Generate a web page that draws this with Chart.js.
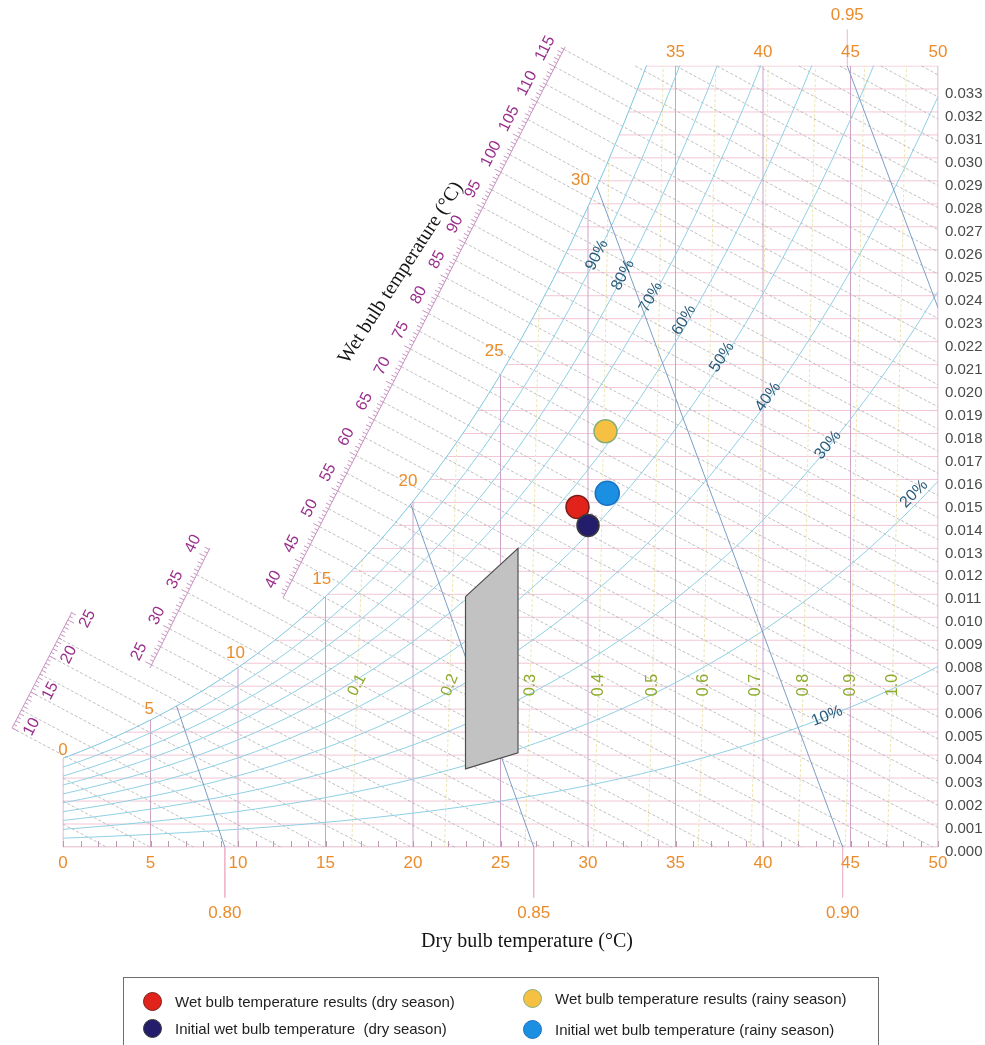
<!DOCTYPE html>
<html lang="en">
<head>
<meta charset="utf-8">
<title>Psychrometric chart – wet bulb temperature results</title>
<script src="https://cdn.jsdelivr.net/npm/chart.js@4.4.1/dist/chart.umd.min.js"></script>
<style>
  html, body { margin: 0; padding: 0; background: #ffffff; }
  #frame { position: relative; width: 985px; height: 1045px; overflow: hidden; background: #ffffff; }
  #psy { position: absolute; left: 0; top: 0; display: block; }
  #legend { position: absolute; left: 123px; top: 977px; width: 756px; height: 100px; border: 1px solid #6e6e6e;
            box-sizing: border-box; font-family: "Liberation Sans", Arial, sans-serif; font-size: 15px; color: #1e1e1e; }
  .entry { position: absolute; display: flex; align-items: center; white-space: pre; height: 22px; }
  .dot { width: 19px; height: 19px; border-radius: 50%; box-sizing: border-box; margin-right: 13px; flex: none; }
</style>
</head>
<body>
<div id="frame">
  <canvas id="psy" width="985" height="1045"></canvas>
  <div id="legend"></div>
</div>
<script>
// ---------------- values ----------------
const DRY_BULB_GRID = [0, 5, 10, 15, 20, 25, 30, 35, 40, 45, 50];
const DRY_BULB_TOP_LABELS = [35, 40, 45, 50];
const SAT_LABELS = [0, 5, 10, 15, 20, 25, 30];
const HUMIDITY_LABELS = [0.000, 0.001, 0.002, 0.003, 0.004, 0.005, 0.006, 0.007, 0.008, 0.009,
  0.010, 0.011, 0.012, 0.013, 0.014, 0.015, 0.016, 0.017, 0.018, 0.019,
  0.020, 0.021, 0.022, 0.023, 0.024, 0.025, 0.026, 0.027, 0.028, 0.029,
  0.030, 0.031, 0.032, 0.033];
const HUMIDITY_TOP = 0.034;

// saturation vapour pressure of water (kPa) against dry bulb temperature (°C)
const SAT_TEMP = [0, 1, 2, 3, 4, 5, 6, 7, 8, 9, 10, 11, 12, 13, 14, 15, 16, 17, 18, 19, 20,
  21, 22, 23, 24, 25, 26, 27, 28, 29, 30, 31, 32, 33, 34, 35, 36, 37, 38, 39, 40,
  41, 42, 43, 44, 45, 46, 47, 48, 49, 50];
const SAT_PRESSURE = [0.6112, 0.6571, 0.7060, 0.7581, 0.8135, 0.8725, 0.9353, 1.0020, 1.0729, 1.1481, 1.2280,
  1.3127, 1.4026, 1.4978, 1.5987, 1.7055, 1.8184, 1.9380, 2.0643, 2.1978, 2.3388,
  2.4877, 2.6448, 2.8104, 2.9851, 3.1692, 3.3631, 3.5673, 3.7822, 4.0083, 4.2460,
  4.4959, 4.7585, 5.0343, 5.3239, 5.6278, 5.9466, 6.2810, 6.6315, 6.9987, 7.3835,
  7.7863, 8.2080, 8.6492, 9.1107, 9.5932, 10.098, 10.625, 11.176, 11.751, 12.351];

const RH_LEVELS = [10, 20, 30, 40, 50, 60, 70, 80, 90];
// enthalpy guide lines, kJ/kg dry air
const ENTHALPY_LINES = [2.5, 5, 7.5, 10, 12.5, 15, 17.5, 20, 22.5, 25, 27.5, 30, 32.5, 35, 37.5, 40, 42.5, 45,
  47.5, 50, 52.5, 55, 57.5, 60, 62.5, 65, 67.5, 70, 72.5, 75, 77.5, 80, 82.5, 85, 87.5, 90, 92.5, 95,
  97.5, 100, 102.5, 105, 107.5, 110, 112.5, 115, 117.5, 120, 122.5, 125, 127.5, 130, 132.5, 135, 137.5];
const ENTHALPY_LABELS_A = [10, 15, 20, 25];
const ENTHALPY_LABELS_B = [25, 30, 35, 40];
const ENTHALPY_LABELS_C = [40, 45, 50, 55, 60, 65, 70, 75, 80, 85, 90, 95, 100, 105, 110, 115];
const VOLUME_LEVELS = [0.80, 0.85, 0.90, 0.95];
const VOLUME_LABELS = ['0.80', '0.85', '0.90', '0.95'];

const EVAP_LABELS = ['0.1', '0.2', '0.3', '0.4', '0.5', '0.6', '0.7', '0.8', '0.9', '1.0'];
const EVAP_T_LOW  = [16.5, 21.8, 26.4, 30.3, 33.4, 36.3, 39.3, 42.0, 44.7, 47.1];
const EVAP_T_MID  = [16.8, 22.1, 26.7, 30.6, 33.7, 36.6, 39.6, 42.3, 45.0, 47.4];
const EVAP_T_HIGH = [17.1, 22.5, 27.2, 31.2, 34.3, 37.3, 40.3, 43.0, 45.8, 48.2];
const EVAP_W_MID = 0.00705;

// measured states: dry bulb (°C), humidity ratio (kg/kg)
const WB_RESULT_DRY = [29.4, 0.0148];
const WB_INITIAL_DRY = [30.0, 0.0140];
const WB_RESULT_RAINY = [31.0, 0.0181];
const WB_INITIAL_RAINY = [31.1, 0.0154];

// comfort zone outline
const COMFORT_T = [23.0, 26.0, 26.0, 23.0];
const COMFORT_W = [0.0109, 0.0130, 0.0041, 0.0034];

// ---------------- psychrometric relations ----------------
const P_BARO = 99.0;    // kPa, pressure of the humidity curves
const P_STD = 101.325;  // kPa, pressure of the specific volume lines

const wFromVapour = e => 0.622 * e / (P_BARO - e);
const WS = SAT_PRESSURE.map(wFromVapour);

function lerp(xs, ys, x) {
  if (x <= xs[0]) return ys[0];
  for (let i = 1; i < xs.length; i++) {
    if (x <= xs[i]) {
      const f = (x - xs[i - 1]) / (xs[i] - xs[i - 1]);
      return ys[i - 1] + f * (ys[i] - ys[i - 1]);
    }
  }
  return ys[ys.length - 1];
}
const wsAt = t => lerp(SAT_TEMP, WS, t);
const tsAt = w => lerp(WS, SAT_TEMP, w);
const enthalpy = (t, w) => 1.006 * t + w * (2501 + 1.86 * t);
const wOnEnthalpy = (h, t) => (h - 1.006 * t) / (2501 + 1.86 * t);

// enthalpy scale segments, end points as (dry bulb, humidity ratio)
const ENTH_SCALE_A = [[-2.91, 0.00518], [0.51, 0.01023]];
const ENTH_SCALE_B = [[4.97, 0.00779], [8.40, 0.01302]];
const ENTH_SCALE_C = [[12.57, 0.01084], [28.69, 0.03483]];

function onScale(seg, h) {
  const [a, b] = seg;
  const at = s => [a[0] + (b[0] - a[0]) * s, a[1] + (b[1] - a[1]) * s];
  let lo = -0.5, hi = 1.5;
  for (let k = 0; k < 60; k++) {
    const m = (lo + hi) / 2, p = at(m);
    if (enthalpy(p[0], p[1]) < h) lo = m; else hi = m;
  }
  const s = (lo + hi) / 2, p = at(s);
  return { t: p[0], w: p[1], s };
}

// one enthalpy line: from its scale (or the chart edge) down to the dry bulb axis or the right edge
function enthalpyLine(h) {
  let start;
  if (h < 10) start = [0, h / 2501];
  else {
    const seg = h < 25 ? ENTH_SCALE_A : h < 40 ? ENTH_SCALE_B : ENTH_SCALE_C;
    const p = onScale(seg, h);
    start = p.s <= 1 ? [p.t, p.w]
      : [(h - 2501 * HUMIDITY_TOP) / (1.006 + 1.86 * HUMIDITY_TOP), HUMIDITY_TOP];
  }
  const tEnd = h / 1.006;
  const end = tEnd <= 50 ? [tEnd, 0] : [50, wOnEnthalpy(h, 50)];
  const pts = [start];
  for (let k = 1; k < 4; k++) {
    const t = start[0] + (end[0] - start[0]) * k / 4;
    pts.push([t, wOnEnthalpy(h, t)]);
  }
  pts.push(end);
  return pts;
}

const tOnVolume = (v, w) => v * P_STD / (0.287042 * (1 + 1.6078 * w)) - 273.15;
function volumeLine(v) {
  let wLo = 0;
  if (tOnVolume(v, 0) > 50) wLo = (v * P_STD / (0.287042 * 323.15) - 1) / 1.6078;
  let wHi = HUMIDITY_TOP;
  const f = w => wsAt(tOnVolume(v, w)) - w;
  if (f(wHi) < 0) {
    let lo = wLo, hi = wHi;
    for (let k = 0; k < 60; k++) { const m = (lo + hi) / 2; if (f(m) > 0) lo = m; else hi = m; }
    wHi = (lo + hi) / 2;
  }
  return [[tOnVolume(v, wLo), wLo], [tOnVolume(v, wHi), wHi]];
}

// ---------------- datasets ----------------
const datasets = [];
const GAP = { x: null, y: null };
function addLines(segments, style) {
  const data = [];
  segments.forEach((seg, i) => {
    if (i) data.push(GAP);
    seg.forEach(p => data.push({ x: p[0], y: p[1] }));
  });
  datasets.push(Object.assign({
    data, showLine: true, spanGaps: false, pointRadius: 0, pointHoverRadius: 0, pointHitRadius: 0,
    fill: false, tension: 0, borderWidth: 1
  }, style));
}

// humidity ratio grid, from the saturation curve to the right edge
const humidityGrid = HUMIDITY_LABELS.slice(1).concat([HUMIDITY_TOP]);
addLines(humidityGrid.map(w => [[Math.max(0, tsAt(w)), w], [50, w]]), { borderColor: '#f3c6d6', order: 95 });
addLines([[[0, 0], [50, 0]]], { borderColor: '#dea2bb', order: 94 });

// dry bulb grid, from the axis up to the saturation curve
addLines(DRY_BULB_GRID.map(t => [[t, 0], [t, Math.min(HUMIDITY_TOP, WS[t])]]), { borderColor: '#cfa2c8', order: 90 });

// enthalpy deviation curves
addLines(EVAP_T_LOW.map((t0, i) => {
  const t1 = EVAP_T_HIGH[i];
  return [[t0, 0], [EVAP_T_MID[i], EVAP_W_MID], [t1, Math.min(HUMIDITY_TOP, wsAt(t1))]];
}), { borderColor: '#ede5b4', borderDash: [3, 2], order: 85 });

// enthalpy lines
addLines(ENTHALPY_LINES.map(enthalpyLine), { borderColor: '#b0b0b0', borderDash: [3, 2], borderWidth: 0.8, order: 79, clip: false });

// relative humidity curves and saturation curve
addLines(RH_LEVELS.map(r => SAT_TEMP.map((t, i) => [t, wFromVapour(r / 100 * SAT_PRESSURE[i])])),
  { borderColor: '#8fd0e4', order: 70 });
addLines([SAT_TEMP.map((t, i) => [t, WS[i]])], { borderColor: '#7cc6df', order: 69 });

// specific volume lines and their label leaders
const volumeSegs = VOLUME_LEVELS.map(volumeLine);
addLines(volumeSegs, { borderColor: '#7b9ec4', order: 60 });
addLines(volumeSegs.map((seg, i) => i < 3
  ? [[seg[0][0], 0], [seg[0][0], -0.0022]]
  : [[seg[1][0], HUMIDITY_TOP], [seg[1][0], HUMIDITY_TOP + 0.0016]]),
  { borderColor: '#efb6c9', order: 59, clip: false });

// comfort zone
datasets.push({
  data: COMFORT_T.map((t, i) => ({ x: t, y: COMFORT_W[i] })).concat([{ x: COMFORT_T[0], y: COMFORT_W[0] }]),
  showLine: true, pointRadius: 0, pointHoverRadius: 0, tension: 0,
  fill: 'shape', backgroundColor: '#c2c2c2', borderColor: '#4f4f4f', borderWidth: 1.2, order: 10
});

// measured states
function marker(p, fillColor, edge, r, ord) {
  datasets.push({
    data: [{ x: p[0], y: p[1] }], pointRadius: r, pointHoverRadius: r,
    pointBackgroundColor: fillColor, pointBorderColor: edge, pointBorderWidth: 1.5, order: ord
  });
}
marker(WB_RESULT_RAINY, '#f6c143', '#86ad76', 11.5, 4);
marker(WB_INITIAL_RAINY, '#1b8fe1', '#1d6fc2', 12, 3);
marker(WB_RESULT_DRY, '#e1231b', '#7c1c17', 11.5, 2);
marker(WB_INITIAL_DRY, '#231d6c', '#3a3a3a', 11, 1);

// ---------------- text and scale decorations ----------------
const ORANGE = '#ea8c2c', PURPLE = '#992f8b', TEAL = '#2a5b7b', GREEN = '#8caa2c';
const SANS = '"Liberation Sans", Arial, sans-serif';
const SERIF = '"Liberation Serif", "Times New Roman", serif';
const RH_LABEL_AT = [[43.66, 0.00570], [48.63, 0.01537], [43.71, 0.01750], [40.29, 0.01959], [37.66, 0.02133],
  [35.49, 0.02294], [33.60, 0.02394], [32.00, 0.02490], [30.51, 0.02577]];
const EVAP_LABEL_ANGLE = [-62, -68, -88, -90, -90, -90, -90, -90, -90, -90];

const chartText = {
  id: 'chartText',
  afterDatasetsDraw(chart) {
    const { ctx } = chart;
    const X = chart.scales.x, Y = chart.scales.y;
    const px = t => X.getPixelForValue(t), py = w => Y.getPixelForValue(w);
    const put = (txt, x, y, deg, font, color, align) => {
      ctx.save();
      ctx.translate(x, y);
      ctx.rotate(deg * Math.PI / 180);
      ctx.font = font; ctx.fillStyle = color;
      ctx.textAlign = align || 'center'; ctx.textBaseline = 'middle';
      ctx.fillText(txt, 0, 0);
      ctx.restore();
    };
    ctx.save();

    // small ticks on the dry bulb axis
    ctx.strokeStyle = '#bb9aae'; ctx.lineWidth = 1;
    for (let t = 0; t <= 50; t++) {
      const x = Math.round(px(t)) + 0.5;
      ctx.beginPath(); ctx.moveTo(x, py(0)); ctx.lineTo(x, py(0) - 6); ctx.stroke();
    }

    // enthalpy scales: spine, comb and labels
    const scales = [
      { seg: ENTH_SCALE_A, labels: ENTHALPY_LABELS_A, side: 1, along: 10 },
      { seg: ENTH_SCALE_B, labels: ENTHALPY_LABELS_B, side: -1, along: 6 },
      { seg: ENTH_SCALE_C, labels: ENTHALPY_LABELS_C, side: -1, along: 12 }
    ];
    scales.forEach(sc => {
      const a = [px(sc.seg[0][0]), py(sc.seg[0][1])], b = [px(sc.seg[1][0]), py(sc.seg[1][1])];
      const len = Math.hypot(b[0] - a[0], b[1] - a[1]);
      const u = [(b[0] - a[0]) / len, (b[1] - a[1]) / len];
      const left = [u[1], -u[0]];
      const nn = sc.side < 0 ? left : [-left[0], -left[1]];
      ctx.strokeStyle = '#c993c1'; ctx.lineWidth = 1;
      ctx.beginPath(); ctx.moveTo(a[0], a[1]); ctx.lineTo(b[0], b[1]); ctx.stroke();
      const h0 = Math.ceil(enthalpy(sc.seg[0][0], sc.seg[0][1]) * 2) / 2;
      const h1 = Math.floor(enthalpy(sc.seg[1][0], sc.seg[1][1]) * 2) / 2;
      for (let h = h0; h <= h1; h += 0.5) {
        const p = onScale(sc.seg, h);
        const x = px(p.t), y = py(p.w);
        const L = h % 5 === 0 ? 7 : h % 1 === 0 ? 5 : 3.5;
        ctx.beginPath(); ctx.moveTo(x, y); ctx.lineTo(x + nn[0] * L, y + nn[1] * L); ctx.stroke();
      }
      const deg = Math.atan2(u[1], u[0]) * 180 / Math.PI;
      sc.labels.forEach(h => {
        const p = onScale(sc.seg, h);
        const x = px(p.t) + nn[0] * 17 + u[0] * sc.along;
        const y = py(p.w) + nn[1] * 17 + u[1] * sc.along;
        put(String(h), x, y, deg, '16px ' + SANS, PURPLE);
      });
    });

    // humidity ratio labels
    HUMIDITY_LABELS.forEach(w => put(w.toFixed(3), px(50) + 7, py(w) + 5, 0, '15px ' + SANS, '#4a4a4a', 'left'));

    // dry bulb labels
    DRY_BULB_GRID.forEach(t => put(String(t), px(t), py(0) + 16, 0, '17px ' + SANS, ORANGE));
    DRY_BULB_TOP_LABELS.forEach(t => put(String(t), px(t), py(HUMIDITY_TOP) - 14, 0, '17px ' + SANS, ORANGE));
    SAT_LABELS.forEach(t => put(String(t), px(t) - 0.25 * t, py(WS[t]) - 8 - 0.6 * t, 0, '17px ' + SANS, ORANGE));

    // specific volume labels
    volumeSegs.forEach((seg, i) => {
      if (i < 3) put(VOLUME_LABELS[i], px(seg[0][0]), py(0) + 66, 0, '17px ' + SANS, ORANGE);
      else put(VOLUME_LABELS[i], px(seg[1][0]), py(HUMIDITY_TOP) - 51, 0, '17px ' + SANS, ORANGE);
    });

    // relative humidity labels, turned along their curves
    RH_LEVELS.forEach((r, i) => {
      const [t, w] = RH_LABEL_AT[i];
      const e1 = lerp(SAT_TEMP, SAT_PRESSURE, t - 0.5) * r / 100, e2 = lerp(SAT_TEMP, SAT_PRESSURE, t + 0.5) * r / 100;
      const deg = Math.atan2(py(wFromVapour(e2)) - py(wFromVapour(e1)), px(t + 0.5) - px(t - 0.5)) * 180 / Math.PI;
      put(r + '%', px(t), py(w), deg, '16px ' + SANS, TEAL);
    });

    // enthalpy deviation labels
    EVAP_LABELS.forEach((s, i) => put(s, px(EVAP_T_MID[i]), py(EVAP_W_MID), EVAP_LABEL_ANGLE[i], '16px ' + SANS, GREEN));

    // axis titles
    put('Dry bulb temperature (°C)', 527, 942, 0, '20px ' + SERIF, '#151515');
    put('Wet bulb temperature (°C)', 401, 273, -57, '20px ' + SERIF, '#151515');

    ctx.restore();
  }
};

new Chart(document.getElementById('psy'), {
  type: 'scatter',
  data: { datasets },
  options: {
    responsive: false,
    maintainAspectRatio: false,
    animation: false,
    devicePixelRatio: 1,
    events: [],
    layout: { padding: { left: 63, right: 47, top: 66, bottom: 198 } },
    plugins: { legend: { display: false }, tooltip: { enabled: false } },
    scales: {
      x: { type: 'linear', display: false, bounds: 'data', afterDataLimits: s => { s.min = 0; s.max = 50; } },
      y: { type: 'linear', display: false, bounds: 'data', afterDataLimits: s => { s.min = 0; s.max = HUMIDITY_TOP; } }
    }
  },
  plugins: [chartText]
});

// ---------------- legend ----------------
const LEGEND_ITEMS = [
  { text: 'Wet bulb temperature results (dry season)', fill: '#e1231b', edge: '#7c1c17', left: 19, top: 12 },
  { text: 'Initial wet bulb temperature  (dry season)', fill: '#231d6c', edge: '#3a3a3a', left: 19, top: 39 },
  { text: 'Wet bulb temperature results (rainy season)', fill: '#f6c143', edge: '#86ad76', left: 399, top: 9 },
  { text: 'Initial wet bulb temperature (rainy season)', fill: '#1b8fe1', edge: '#1d6fc2', left: 399, top: 40 }
];
const legend = document.getElementById('legend');
LEGEND_ITEMS.forEach(it => {
  const row = document.createElement('div');
  row.className = 'entry';
  row.style.left = it.left + 'px';
  row.style.top = it.top + 'px';
  const dot = document.createElement('span');
  dot.className = 'dot';
  dot.style.background = it.fill;
  dot.style.border = '1.5px solid ' + it.edge;
  const label = document.createElement('span');
  label.textContent = it.text;
  row.appendChild(dot); row.appendChild(label);
  legend.appendChild(row);
});
</script>
</body>
</html>
